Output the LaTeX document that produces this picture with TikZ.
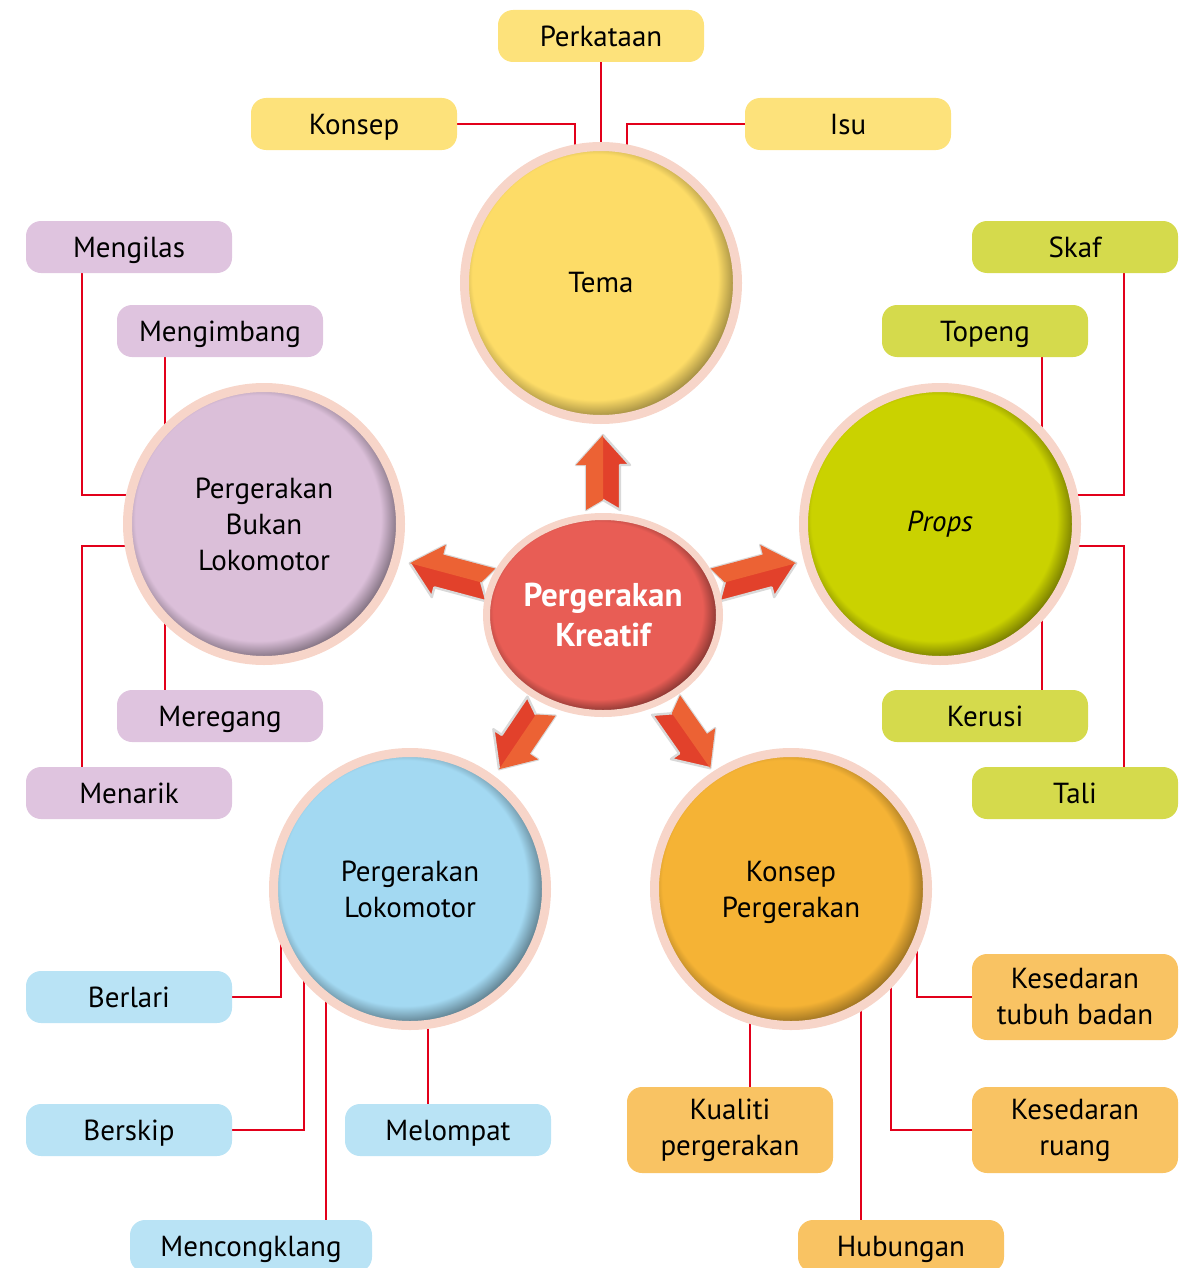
\documentclass[tikz,border=0pt]{standalone}
\usepackage{fontspec}
\setmainfont{PT Sans}
\usetikzlibrary{calc,backgrounds,shapes.geometric}
\definecolor{linkred}{RGB}{226,0,26}
\definecolor{ringpink}{RGB}{247,213,201}
\definecolor{temacol}{RGB}{253,220,103}
\definecolor{bukancol}{RGB}{219,191,217}
\definecolor{propscol}{RGB}{202,210,0}
\definecolor{lokocol}{RGB}{163,217,242}
\definecolor{konsepcol}{RGB}{245,179,53}
\definecolor{kreatifcol}{RGB}{232,93,85}
\definecolor{temaboxcol}{RGB}{253,226,123}
\definecolor{bukanboxcol}{RGB}{223,196,223}
\definecolor{propsboxcol}{RGB}{213,218,76}
\definecolor{lokoboxcol}{RGB}{185,227,245}
\definecolor{konsepboxcol}{RGB}{249,195,99}
\definecolor{arrowlight}{RGB}{236,98,52}
\definecolor{arrowdark}{RGB}{226,65,43}
\colorlet{ballbase}{white}
\colorlet{balldark}{gray}
\pgfdeclareradialshading[ballbase,balldark]{bubbleshade}{\pgfpoint{-2bp}{2bp}}{color(0bp)=(ballbase); color(22.5bp)=(ballbase); color(25.5bp)=(balldark); color(50bp)=(balldark)}

\begin{document}
\begin{tikzpicture}[x=0.5pt, y=-0.5pt,
  box/.style={rounded corners=7.5pt, minimum width=103pt, minimum height=26pt, inner sep=2pt, align=center, font=\fontsize{14.5}{18}\selectfont},
  onebox/.style={box, text height=10.2pt, text depth=0pt},
  temabox/.style={onebox, fill=temaboxcol},
  bukanbox/.style={onebox, fill=bukanboxcol},
  propsbox/.style={onebox, fill=propsboxcol},
  lokobox/.style={onebox, fill=lokoboxcol},
  konsepbox/.style={box, fill=konsepboxcol, minimum height=43pt},
  blob/.style 2 args={circle, inner sep=0pt, minimum size=136.5pt, draw=ringpink, line width=4.5pt, align=center, font=\fontsize{14.5}{18}\selectfont, /utils/exec={\colorlet{ballbase}{#1}\colorlet{balldark}{#2}}, shading=bubbleshade},
  link/.style={draw=linkred, line width=1.3pt}]
  \path[use as bounding box, clip] (0,0) rectangle (1197,1268);

  % Tengah
  \node[blob={kreatifcol}{kreatifcol!60!black}, ellipse, minimum width=116.5pt, minimum height=98.5pt, line width=3.5pt, text=white, font=\bfseries\fontsize{16.5}{20}\selectfont] (kreatif) at (603,615) {Pergerakan\\Kreatif};

  % Tema
  \node[blob={temacol}{temacol!65!black}] (tema) at (601,283) {Tema};
  \node[temabox] (perkataan) at (601,36) {Perkataan};
  \node[temabox] (konsep) at (354,124) {Konsep};
  \node[temabox] (isu) at (848,124) {Isu};

  % Pergerakan bukan lokomotor
  \node[blob={bukancol}{bukancol!60!black}] (bukan) at (264,524) {Pergerakan\\Bukan\\Lokomotor};
  \node[bukanbox] (mengilas) at (129,247) {Mengilas};
  \node[bukanbox] (mengimbang) at (220,331) {Mengimbang};
  \node[bukanbox] (meregang) at (220,716) {Meregang};
  \node[bukanbox] (menarik) at (129,793) {Menarik};

  % Props
  \node[blob={propscol}{propscol!60!black}] (props) at (940,524) {\itshape Props};
  \node[propsbox] (skaf) at (1075,247) {Skaf};
  \node[propsbox] (topeng) at (985,331) {Topeng};
  \node[propsbox] (kerusi) at (985,716) {Kerusi};
  \node[propsbox] (tali) at (1075,793) {Tali};

  % Pergerakan lokomotor
  \node[blob={lokocol}{lokocol!60!black}, text depth=0pt] (lokomotor) at (410,889) {Pergerakan\\Lokomotor};
  \node[lokobox] (berlari) at (129,997) {Berlari};
  \node[lokobox] (berskip) at (129,1130) {Berskip};
  \node[lokobox] (melompat) at (448,1130) {Melompat};
  \node[lokobox, minimum width=121pt] (mencong) at (251,1246) {Mencongklang};

  % Konsep pergerakan
  \node[blob={konsepcol}{konsepcol!65!black}, text depth=0pt] (gerak) at (791,889) {Konsep\\Pergerakan};
  \node[konsepbox] (tubuh) at (1075,997) {Kesedaran\\tubuh badan};
  \node[konsepbox] (kualiti) at (730,1130) {Kualiti\\pergerakan};
  \node[konsepbox] (ruang) at (1075,1130) {Kesedaran\\ruang};
  \node[onebox, fill=konsepboxcol] (hubungan) at (901,1246) {Hubungan};

  \begin{pgfonlayer}{background}
    % Garisan penghubung
    \draw[link] (perkataan) -- (tema);
    \draw[link] (konsep.east) -| ($(tema.center)+(-26,0)$);
    \draw[link] (isu.west) -| ($(tema.center)+(26,0)$);
    \draw[link] ($(mengilas.south)+(-47,0)$) |- ($(bukan.center)+(0,-29)$);
    \draw[link] ($(mengimbang.south)+(-55,0)$) |- (bukan.center);
    \draw[link] ($(meregang.north)+(-55,0)$) |- (bukan.center);
    \draw[link] ($(menarik.north)+(-47,0)$) |- ($(bukan.center)+(0,22)$);
    \draw[link] ($(skaf.south)+(49,0)$) |- ($(props.center)+(0,-29)$);
    \draw[link] ($(topeng.south)+(57,0)$) |- (props.center);
    \draw[link] ($(kerusi.north)+(57,0)$) |- (props.center);
    \draw[link] ($(tali.north)+(49,0)$) |- ($(props.center)+(0,22)$);
    \draw[link] (berlari.east) -| ($(lokomotor.center)+(-129,0)$);
    \draw[link] (berskip.east) -| ($(lokomotor.center)+(-106,0)$);
    \draw[link] ($(mencong.north)+(75,0)$) |- (lokomotor.center);
    \draw[link] ($(melompat.north)+(-20,0)$) |- (lokomotor.center);
    \draw[link] (tubuh.west) -| ($(gerak.center)+(126,0)$);
    \draw[link] (ruang.west) -| ($(gerak.center)+(100,0)$);
    \draw[link] ($(kualiti.north)+(20,0)$) |- (gerak.center);
    \draw[link] ($(hubungan.north)+(-40,0)$) |- (gerak.center);

    % Anak panah
    \foreach \a/\r/\l/\s in {90/105/75/1, 165/116/84/-1, 15/116/84/1, 236/110/76/1, 305/110/77/1} {
      \begin{scope}[shift={(kreatif.center)}, x=0.5pt, y=0.5pt, rotate=\a]
        \fill[arrowdark, draw=black!15, line width=1.2pt, line join=round]
          (\r,17) -- ({\r+\l-30},17) -- ({\r+\l-30},27) -- ({\r+\l},0) -- ({\r+\l-30},-27)
          -- ({\r+\l-30},-17) -- (\r,-17) -- ({\r+10},0) -- cycle;
        \fill[arrowlight] (\r,17*\s) -- ({\r+\l-30},17*\s) -- ({\r+\l-30},27*\s) -- ({\r+\l},0) -- ({\r+10},0) -- cycle;
      \end{scope}
    }
  \end{pgfonlayer}
\end{tikzpicture}
\end{document}
